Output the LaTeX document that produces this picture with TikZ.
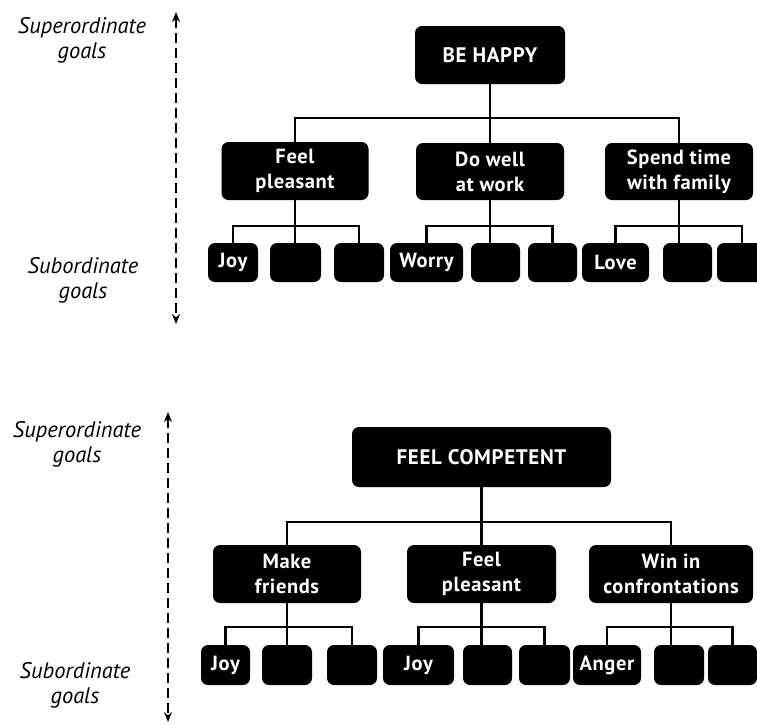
\documentclass[tikz,border=0pt]{standalone}
\usepackage{fontspec}
\setmainfont{PT Sans}
\usetikzlibrary{arrows.meta}
\begin{document}
\begin{tikzpicture}[x=1pt,y=-1pt,
  goal/.style={fill=black,rounded corners=7pt,text=white,inner sep=0pt,align=center,
    font=\fontsize{20.5}{25}\selectfont\bfseries\addfontfeatures{LetterSpace=3}},
  leaf/.style={goal,minimum height=39pt},
  conn/.style={line width=2.4pt,black},
  side/.style={align=center,font=\fontsize{22.5}{25}\selectfont\itshape},
  axis/.style={line width=1.9pt,dash pattern=on 10pt off 5pt,
    {Stealth[length=10pt,width=8pt]}-{Stealth[length=10pt,width=8pt]}}
]
\useasboundingbox (0,0) rectangle (757,724);

% ---------- top tree ----------
\node[side] (sup1) at (82,40) {Superordinate\\goals};
\node[side] (sub1) at (83,280) {Subordinate\\goals};
\coordinate (a1t) at (176,12);
\coordinate (a1b) at (176,324);
\draw[axis] (a1t) -- (a1b);

\node[goal,minimum width=150pt,minimum height=58pt,font=\fontsize{21}{25}\selectfont\bfseries\addfontfeatures{LetterSpace=3}] (bh) at (490,55) {BE HAPPY};
\node[goal,minimum width=147pt,minimum height=58pt] (fp1) at (295,171) {Feel\\pleasant};
\node[goal,minimum width=148pt,minimum height=57pt] (dw) at (490,171.5) {Do well\\at work};
\node[goal,minimum width=148pt,minimum height=57pt] (st) at (679,171.5) {Spend time\\with family};

\node[leaf,minimum width=50pt] (j1) at (233,262.5) {Joy};
\node[leaf,minimum width=51pt] (a2) at (295.5,262.5) {};
\node[leaf,minimum width=50pt] (a3) at (359,262.5) {};
\node[leaf,minimum width=73pt] (wo) at (426.5,262.5) {Worry};
\node[leaf,minimum width=49pt] (b2) at (495.5,262.5) {};
\node[leaf,minimum width=49pt] (b3) at (552.5,262.5) {};
\node[leaf,minimum width=67pt] (lo) at (615.5,262.5) {Love};
\node[leaf,minimum width=49pt] (c2) at (687.5,262.5) {};
\node[leaf,minimum width=50pt] (c3) at (742,262.5) {};

\coordinate (h1) at (490,118);
\draw[conn] (bh.south) -- (dw.north);
\draw[conn] (fp1.north) |- (h1) -| (st.north);

\draw[conn] (fp1.south) -- (fp1.south |- a2.north);
\draw[conn] (j1.north) -- ++(0,-17) -| (a3.north);
\draw[conn] (dw.south) -- (dw.south |- b2.north);
\draw[conn] (wo.north) -- ++(0,-17) -| (b3.north);
\draw[conn] (st.south) -- (st.south |- c2.north);
\draw[conn] (lo.north) -- ++(0,-17) -| (c3.north);

% ---------- bottom tree ----------
\node[side] (sup2) at (77,444) {Superordinate\\goals};
\node[side] (sub2) at (75,685) {Subordinate\\goals};
\coordinate (a2t) at (168,412);
\coordinate (a2b) at (168,722);
\draw[axis] (a2t) -- (a2b);

\node[goal,minimum width=259pt,minimum height=60pt,font=\fontsize{21}{25}\selectfont\bfseries\addfontfeatures{LetterSpace=3}] (fc) at (481.5,457) {FEEL COMPETENT};
\node[goal,minimum width=148pt,minimum height=58pt] (mf) at (287,574) {Make\\friends};
\node[goal,minimum width=149pt,minimum height=58pt] (fp2) at (481.5,574) {Feel\\pleasant};
\node[goal,minimum width=164pt,minimum height=58pt] (wi) at (671,574) {Win in\\confrontations};

\node[leaf,minimum width=49pt,minimum height=40pt] (j2) at (225.5,665) {Joy};
\node[leaf,minimum width=50pt,minimum height=40pt] (d2) at (287,665) {};
\node[leaf,minimum width=50pt,minimum height=40pt] (d3) at (352,665) {};
\node[leaf,minimum width=71pt,minimum height=40pt] (j3) at (418.5,665) {Joy};
\node[leaf,minimum width=49pt,minimum height=40pt] (e2) at (487.5,665) {};
\node[leaf,minimum width=51pt,minimum height=40pt] (e3) at (544.5,665) {};
\node[leaf,minimum width=68pt,minimum height=40pt] (an) at (607,665) {Anger};
\node[leaf,minimum width=50pt,minimum height=40pt] (f2) at (679,665) {};
\node[leaf,minimum width=49pt,minimum height=40pt] (f3) at (732.5,665) {};

\coordinate (h2) at (481.5,522);
\draw[conn] (fc.south) -- (fp2.north);
\draw[conn] (mf.north) |- (h2) -| (wi.north);

\draw[conn] (mf.south) -- (mf.south |- d2.north);
\draw[conn] (j2.north) -- ++(0,-18) -| (d3.north);
\draw[conn] (fp2.south) -- (fp2.south |- e2.north);
\draw[conn] (j3.north) -- ++(0,-18) -| (e3.north);
\draw[conn] (wi.south) -- (wi.south |- f2.north);
\draw[conn] (an.north) -- ++(0,-18) -| (f3.north);
\end{tikzpicture}
\end{document}
